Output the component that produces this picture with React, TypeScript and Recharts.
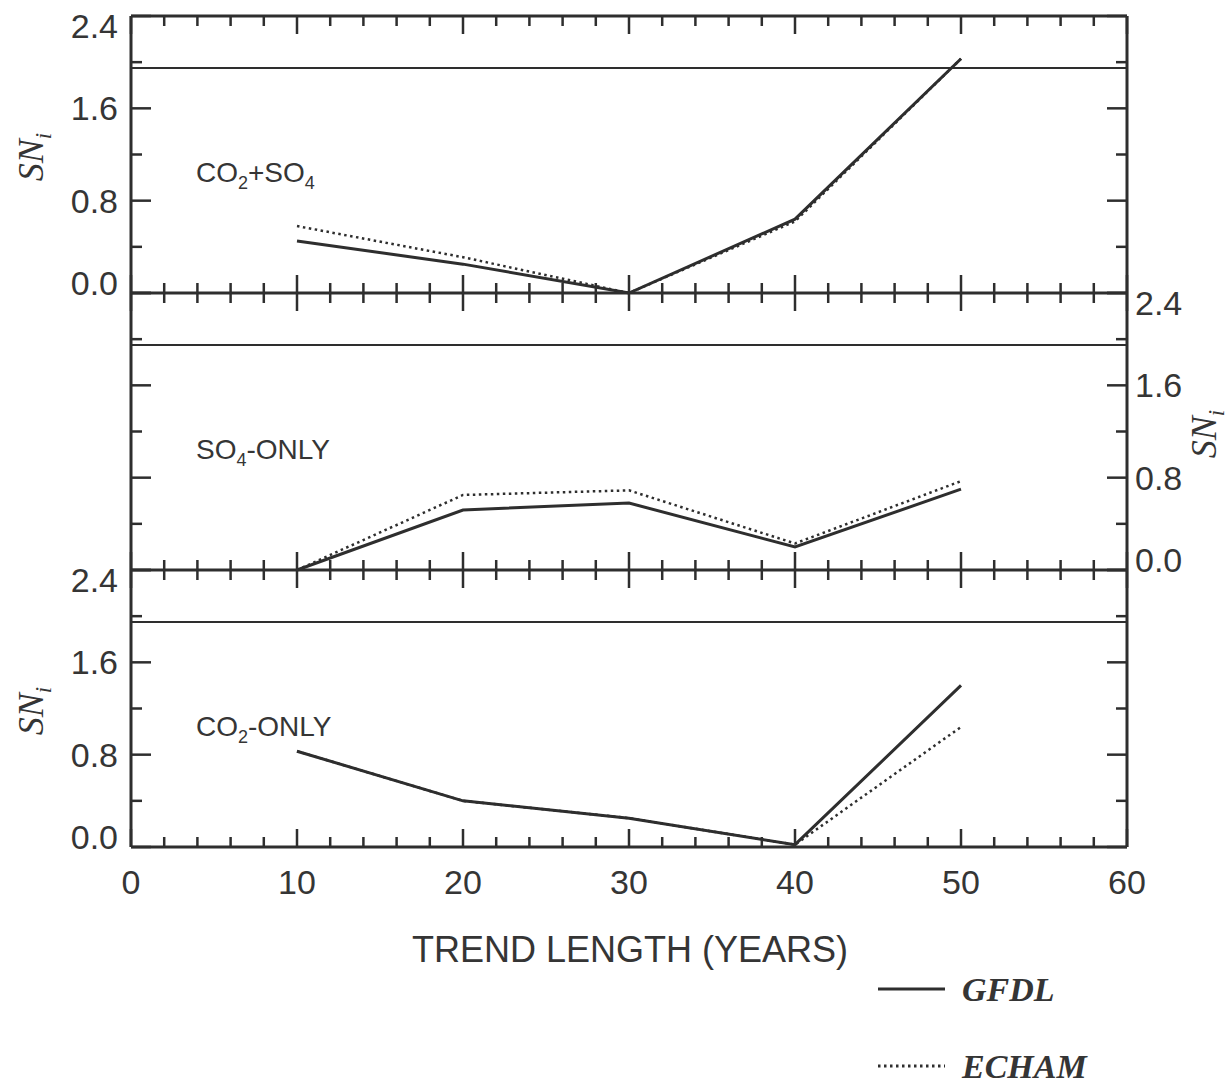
import React from 'react';
import { LineChart, Line, XAxis, YAxis, ReferenceLine, Legend } from 'recharts';

const years = [10, 20, 30, 40, 50];

// CO2+SO4 panel
const co2so4Gfdl = [0.45, 0.25, 0.0, 0.64, 2.03];
const co2so4Echam = [0.58, 0.31, 0.0, 0.62, 2.03];
// SO4-only panel
const so4Gfdl = [0.0, 0.52, 0.58, 0.2, 0.7];
const so4Echam = [0.0, 0.65, 0.69, 0.23, 0.77];
// CO2-only panel
const co2Gfdl = [0.83, 0.4, 0.25, 0.02, 1.4];
const co2Echam = [0.83, 0.4, 0.25, 0.02, 1.04];

const threshold = 1.95;
const xTicks = [0, 2, 4, 6, 8, 10, 12, 14, 16, 18, 20, 22, 24, 26, 28, 30, 32, 34, 36, 38, 40, 42, 44, 46, 48, 50, 52, 54, 56, 58, 60];
const yTicks = [0, 0.4, 0.8, 1.2, 1.6, 2.0, 2.4];
const seriesNames = ['GFDL', 'ECHAM'];
const xTitle = 'TREND LENGTH (YEARS)';

const INK = '#2e2e2e';
const TXT = '#353535';
const SANS = '"Liberation Sans", Arial, sans-serif';
const SERIF = '"Liberation Serif", "Times New Roman", serif';
const W = 1231;
const PANEL_H = 277;
const M_TOP = 16;

type Part = { t: string; sub?: boolean };

const panels = [
  {
    id: 'co2so4',
    gfdl: co2so4Gfdl,
    echam: co2so4Echam,
    tag: [{ t: 'CO' }, { t: '2', sub: true }, { t: '+SO' }, { t: '4', sub: true }] as Part[],
    topAxis: true,
    bottomKind: 'cross',
    leftLabels: true,
    rightLabels: false,
  },
  {
    id: 'so4',
    gfdl: so4Gfdl,
    echam: so4Echam,
    tag: [{ t: 'SO' }, { t: '4', sub: true }, { t: '-ONLY' }] as Part[],
    topAxis: false,
    bottomKind: 'cross',
    leftLabels: false,
    rightLabels: true,
  },
  {
    id: 'co2',
    gfdl: co2Gfdl,
    echam: co2Echam,
    tag: [{ t: 'CO' }, { t: '2', sub: true }, { t: '-ONLY' }] as Part[],
    topAxis: false,
    bottomKind: 'up',
    leftLabels: true,
    rightLabels: false,
  },
];

function XTick(props: any) {
  const { x, y, payload, kind } = props;
  const v = payload.value;
  const major = v % 10 === 0;
  const len = major ? 18 : 10;
  let y1 = y;
  let y2 = y;
  if (kind === 'down') y2 = y + len;
  else if (kind === 'up') y2 = y - len;
  else {
    y1 = y - len;
    y2 = y + len;
  }
  return (
    <g>
      <line x1={x} x2={x} y1={y1} y2={y2} stroke={INK} strokeWidth={2.5} />
      {kind === 'up' && major && (
        <text x={x} y={y + 47} textAnchor="middle" fontFamily={SANS} fontSize={34} fill={TXT}>
          {v}
        </text>
      )}
    </g>
  );
}

function YTick(props: any) {
  const { x, y, payload, side, showLabel } = props;
  const v = payload.value;
  const major = Math.abs(v / 0.8 - Math.round(v / 0.8)) < 1e-6;
  const len = major ? 20 : 11;
  const dir = side === 'left' ? 1 : -1;
  // end labels sit a little inside the frame, as in the print
  const shift = v > 2.39 ? 10 : v < 0.01 ? -10 : 0;
  return (
    <g>
      <line x1={x} x2={x + dir * len} y1={y} y2={y} stroke={INK} strokeWidth={2.5} />
      {showLabel && major && (
        <text
          x={side === 'left' ? x - 13 : x + 8}
          y={y + shift + 12}
          textAnchor={side === 'left' ? 'end' : 'start'}
          fontFamily={SANS}
          fontSize={34}
          fill={TXT}
        >
          {v.toFixed(1)}
        </text>
      )}
    </g>
  );
}

function Tag({ x, y, parts }: { x: number; y: number; parts: Part[] }) {
  let prevSub = false;
  return (
    <text x={x} y={y} fontFamily={SANS} fontSize={28} fill={TXT}>
      {parts.map((p, i) => {
        const dy = p.sub && !prevSub ? 7 : !p.sub && prevSub ? -7 : 0;
        prevSub = !!p.sub;
        return (
          <tspan key={i} dy={dy} fontSize={p.sub ? 18 : 28}>
            {p.t}
          </tspan>
        );
      })}
    </text>
  );
}

function SnLabel({ cx, cy }: { cx: number; cy: number }) {
  return (
    <text
      x={cx}
      y={cy}
      transform={`rotate(-90 ${cx} ${cy})`}
      textAnchor="middle"
      fontFamily={SERIF}
      fontStyle="italic"
      fontSize={36}
      fill={TXT}
    >
      SN
      <tspan dy={8} fontSize={23}>
        i
      </tspan>
    </text>
  );
}

function LegendBox(props: any) {
  const rows = [...(props.payload || [])].sort(
    (a: any, b: any) => seriesNames.indexOf(a.value) - seriesNames.indexOf(b.value)
  );
  return (
    <svg width={250} height={116} style={{ overflow: 'visible' }}>
      {rows.map((e: any, i: number) => {
        const cy = 19 + i * 77;
        return (
          <g key={e.value}>
            <line
              x1={8}
              x2={75}
              y1={cy}
              y2={cy}
              stroke={INK}
              strokeWidth={3}
              strokeDasharray={e.payload?.strokeDasharray}
            />
            <text
              x={92}
              y={cy + 12}
              fontFamily={SERIF}
              fontStyle="italic"
              fontWeight="bold"
              fontSize={34}
              fill={TXT}
            >
              {e.value}
            </text>
          </g>
        );
      })}
    </svg>
  );
}

export default function App() {
  return (
    <div style={{ position: 'absolute', left: 0, top: 0, width: W, height: 1086, background: '#fff', overflow: 'hidden' }}>
      {panels.map((cfg, idx) => {
        const last = idx === panels.length - 1;
        const top = idx * PANEL_H;
        const height = last ? 1086 - top : M_TOP + PANEL_H + 30;
        const mBottom = height - M_TOP - PANEL_H - 1;
        const mTop = M_TOP - (cfg.topAxis ? 1 : 0);
        const data = years.map((yr, i) => ({ year: yr, gfdl: cfg.gfdl[i], echam: cfg.echam[i] }));
        return (
          <div key={cfg.id} style={{ position: 'absolute', left: 0, top }}>
            <LineChart width={W} height={height} data={data} margin={{ top: mTop, right: 0, bottom: mBottom, left: 0 }}>
              {cfg.topAxis && (
                <XAxis
                  xAxisId="top"
                  orientation="top"
                  type="number"
                  dataKey="year"
                  domain={[0, 60]}
                  allowDataOverflow
                  ticks={xTicks}
                  interval={0}
                  height={1}
                  tickSize={0}
                  tickMargin={0}
                  tickLine={false}
                  axisLine={{ stroke: INK, strokeWidth: 3 }}
                  tick={(p: any) => <XTick {...p} kind="down" />}
                />
              )}
              <XAxis
                xAxisId="x"
                type="number"
                dataKey="year"
                domain={[0, 60]}
                ticks={xTicks}
                interval={0}
                height={1}
                tickSize={0}
                tickMargin={0}
                tickLine={false}
                axisLine={{ stroke: INK, strokeWidth: 3 }}
                tick={(p: any) => <XTick {...p} kind={cfg.bottomKind} />}
              />
              <YAxis
                yAxisId="left"
                orientation="left"
                width={131}
                type="number"
                domain={[0, 2.4]}
                ticks={yTicks}
                interval={0}
                tickSize={0}
                tickMargin={0}
                tickLine={false}
                axisLine={{ stroke: INK, strokeWidth: 3 }}
                tick={(p: any) => <YTick {...p} side="left" showLabel={cfg.leftLabels} />}
              />
              <YAxis
                yAxisId="right"
                orientation="right"
                width={104}
                type="number"
                domain={[0, 2.4]}
                allowDataOverflow
                ticks={yTicks}
                interval={0}
                tickSize={0}
                tickMargin={0}
                tickLine={false}
                axisLine={{ stroke: INK, strokeWidth: 3 }}
                tick={(p: any) => <YTick {...p} side="right" showLabel={cfg.rightLabels} />}
              />
              <ReferenceLine xAxisId="x" yAxisId="left" y={threshold} stroke={INK} strokeWidth={2} />
              <Line
                xAxisId="x"
                yAxisId="left"
                type="linear"
                dataKey="gfdl"
                name="GFDL"
                stroke={INK}
                strokeWidth={3}
                dot={false}
                isAnimationActive={false}
              />
              <Line
                xAxisId="x"
                yAxisId="left"
                type="linear"
                dataKey="echam"
                name="ECHAM"
                stroke={INK}
                strokeWidth={2.5}
                strokeDasharray="2.5 3.5"
                dot={false}
                isAnimationActive={false}
              />
              <Tag x={196} y={M_TOP + 166} parts={cfg.tag} />
              {cfg.rightLabels ? <SnLabel cx={1216} cy={M_TOP + 141} /> : <SnLabel cx={43} cy={M_TOP + 141} />}
              {last && (
                <text x={630} y={408} textAnchor="middle" fontFamily={SANS} fontSize={36} fill={TXT}>
                  {xTitle}
                </text>
              )}
              {last && (
                <Legend
                  layout="vertical"
                  align="center"
                  verticalAlign="middle"
                  wrapperStyle={{ left: 870, top: 416, width: 250, height: 116 }}
                  content={(p: any) => <LegendBox {...p} />}
                />
              )}
            </LineChart>
          </div>
        );
      })}
    </div>
  );
}
